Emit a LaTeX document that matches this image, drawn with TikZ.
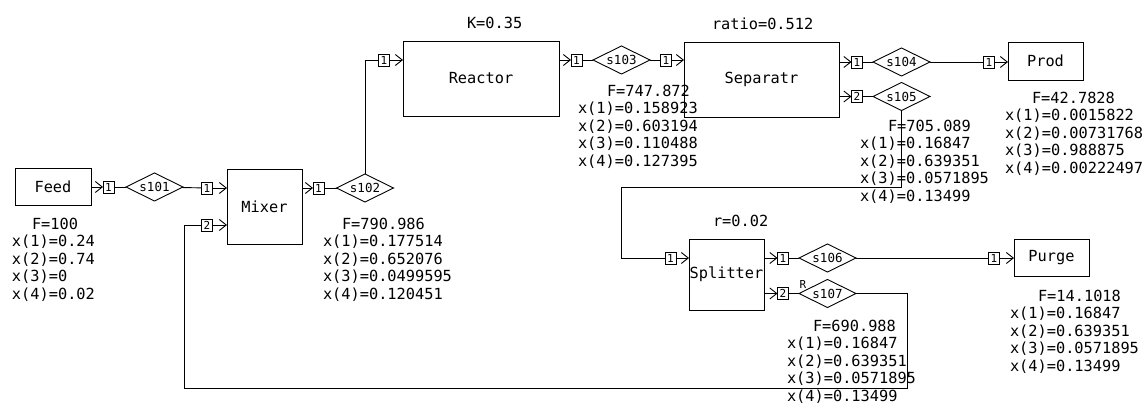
\documentclass[tikz,border=0pt]{standalone}
\usepackage{fontspec}
\newfontfamily\gothic{DejaVu Sans Mono}
\usetikzlibrary{arrows.meta,shapes.geometric}
\begin{document}
\begin{tikzpicture}[x=1pt,y=-1pt,
  ln/.style={line width=0.9pt},
  arr/.style={line width=0.9pt,-{Straight Barb[length=7pt,width=11pt,line width=0.9pt]}},
  unitbox/.style={draw,line width=0.9pt,inner sep=0pt,outer sep=0pt,font=\gothic\fontsize{15.3}{17.5}\selectfont},
  portbox/.style={draw,line width=0.8pt,inner sep=0pt,outer sep=0pt,minimum width=11pt,minimum height=12pt,font=\gothic\fontsize{11}{12}\selectfont},
  strm/.style={draw,diamond,aspect=2,line width=0.9pt,inner sep=0pt,outer sep=0pt,minimum width=57pt,minimum height=28pt,font=\gothic\fontsize{12.5}{13}\selectfont},
  lbl/.style={inner sep=0pt,outer sep=0pt,font=\gothic\fontsize{15.3}{17.5}\selectfont},
  data/.style={lbl,align=left,anchor=north west},
]
\path[use as bounding box] (0,0) rectangle (1146,403);

% units
\node[unitbox,minimum width=76pt,minimum height=37pt] (feed) at (53,186.5) {Feed};
\node[unitbox,minimum width=75pt,minimum height=75pt] (mixer) at (264.5,206.5) {Mixer};
\node[unitbox,minimum width=156pt,minimum height=75pt] (reactor) at (481,78.5) {Reactor};
\node[unitbox,minimum width=155pt,minimum height=75pt] (sep) at (761.5,79.5) {Separatr};
\node[unitbox,minimum width=75pt,minimum height=38pt] (prod) at (1045.5,61) {Prod};
\node[unitbox,minimum width=75pt,minimum height=71pt] (splitter) at (726.5,274.5) {Splitter};
\node[unitbox,minimum width=75pt,minimum height=37pt] (purge) at (1051.5,257.5) {Purge};

% unit parameters
\node[lbl,anchor=north west] (kl) at (467,17) {K=0.35};
\node[lbl,anchor=north west] (rl) at (712,18) {ratio=0.512};
\node[lbl,anchor=north west] (rr) at (713,215) {r=0.02};

% ports
\node[portbox] (fo) at (108.5,187) {1};
\node[portbox] (mi1) at (207,188) {1};
\node[portbox] (mi2) at (207,225) {2};
\node[portbox] (mo) at (318.5,188) {1};
\node[portbox] (ri) at (384,60) {1};
\node[portbox] (ro) at (576.5,60) {1};
\node[portbox] (si) at (666,60) {1};
\node[portbox] (so1) at (857,62) {1};
\node[portbox] (so2) at (857,96.5) {2};
\node[portbox] (pi) at (989,62) {1};
\node[portbox] (spi) at (670.5,258) {1};
\node[portbox] (spo1) at (783,258) {1};
\node[portbox] (spo2) at (783,293.5) {2};
\node[portbox] (pui) at (994,258) {1};

% streams
\node[strm] (s101) at (154.5,187) {s101};
\node[strm] (s102) at (365,188) {s102};
\node[strm] (s103) at (621.5,60) {s103};
\node[strm] (s104) at (901.5,62) {s104};
\node[strm] (s105) at (901.5,96.5) {s105};
\node[strm] (s106) at (827.5,258) {s106};
\node[strm] (s107) at (827.5,293.5) {s107};
\node[inner sep=0pt,font=\gothic\fontsize{11}{12}\selectfont] (rlab) at (803,284) {R};

\coordinate (c1) at (621,187);
\coordinate (c2) at (907,388);
\coordinate (c3) at (184,388);

% connectors
\draw[arr] (feed.east |- fo) -- (fo);
\draw[ln] (fo) -- (s101);
\draw[ln] (s101) -- (mi1);
\draw[arr] (mi1) -- (mi1 -| mixer.west);
\draw[arr] (mixer.east |- mo) -- (mo);
\draw[ln] (mo) -- (s102);
\draw[ln] (s102.north) |- (ri);
\draw[arr] (ri) -- (ri -| reactor.west);
\draw[arr] (reactor.east |- ro) -- (ro);
\draw[ln] (ro) -- (s103);
\draw[ln] (s103) -- (si);
\draw[arr] (si) -- (si -| sep.west);
\draw[arr] (sep.east |- so1) -- (so1);
\draw[ln] (so1) -- (s104);
\draw[ln] (s104) -- (pi);
\draw[arr] (pi) -- (pi -| prod.west);
\draw[arr] (sep.east |- so2) -- (so2);
\draw[ln] (so2) -- (s105);
\draw[ln] (s105.south) |- (c1) |- (spi);
\draw[arr] (spi) -- (spi -| splitter.west);
\draw[arr] (splitter.east |- spo1) -- (spo1);
\draw[ln] (spo1) -- (s106);
\draw[ln] (s106) -- (pui);
\draw[arr] (pui) -- (pui -| purge.west);
\draw[arr] (splitter.east |- spo2) -- (spo2);
\draw[ln] (spo2) -- (s107);
\draw[ln] (s107.east) -| (c2) -- (c3) |- (mi2);
\draw[arr] (mi2) -- (mi2 -| mixer.west);

% stream data
\node[lbl,anchor=north west] (f101) at (32,218) {F=100};
\node[data] (x101) at (12,235) {x(1)=0.24\\x(2)=0.74\\x(3)=0\\x(4)=0.02};
\node[lbl,anchor=north west] (f102) at (342,218) {F=790.986};
\node[data] (x102) at (323,235) {x(1)=0.177514\\x(2)=0.652076\\x(3)=0.0499595\\x(4)=0.120451};
\node[lbl,anchor=north west] (f103) at (607,85) {F=747.872};
\node[data] (x103) at (578,102) {x(1)=0.158923\\x(2)=0.603194\\x(3)=0.110488\\x(4)=0.127395};
\node[lbl,anchor=north west] (f105) at (888,120) {F=705.089};
\node[data] (x105) at (860,137) {x(1)=0.16847\\x(2)=0.639351\\x(3)=0.0571895\\x(4)=0.13499};
\node[lbl,anchor=north west] (f104) at (1032,92) {F=42.7828};
\node[data] (x104) at (1005,109) {x(1)=0.0015822\\x(2)=0.00731768\\x(3)=0.988875\\x(4)=0.00222497};
\node[lbl,anchor=north west] (f106) at (1038,290) {F=14.1018};
\node[data] (x106) at (1010,307) {x(1)=0.16847\\x(2)=0.639351\\x(3)=0.0571895\\x(4)=0.13499};
\node[lbl,anchor=north west] (f107) at (813,320) {F=690.988};
\node[data] (x107) at (787,337) {x(1)=0.16847\\x(2)=0.639351\\x(3)=0.0571895\\x(4)=0.13499};
\end{tikzpicture}
\end{document}
